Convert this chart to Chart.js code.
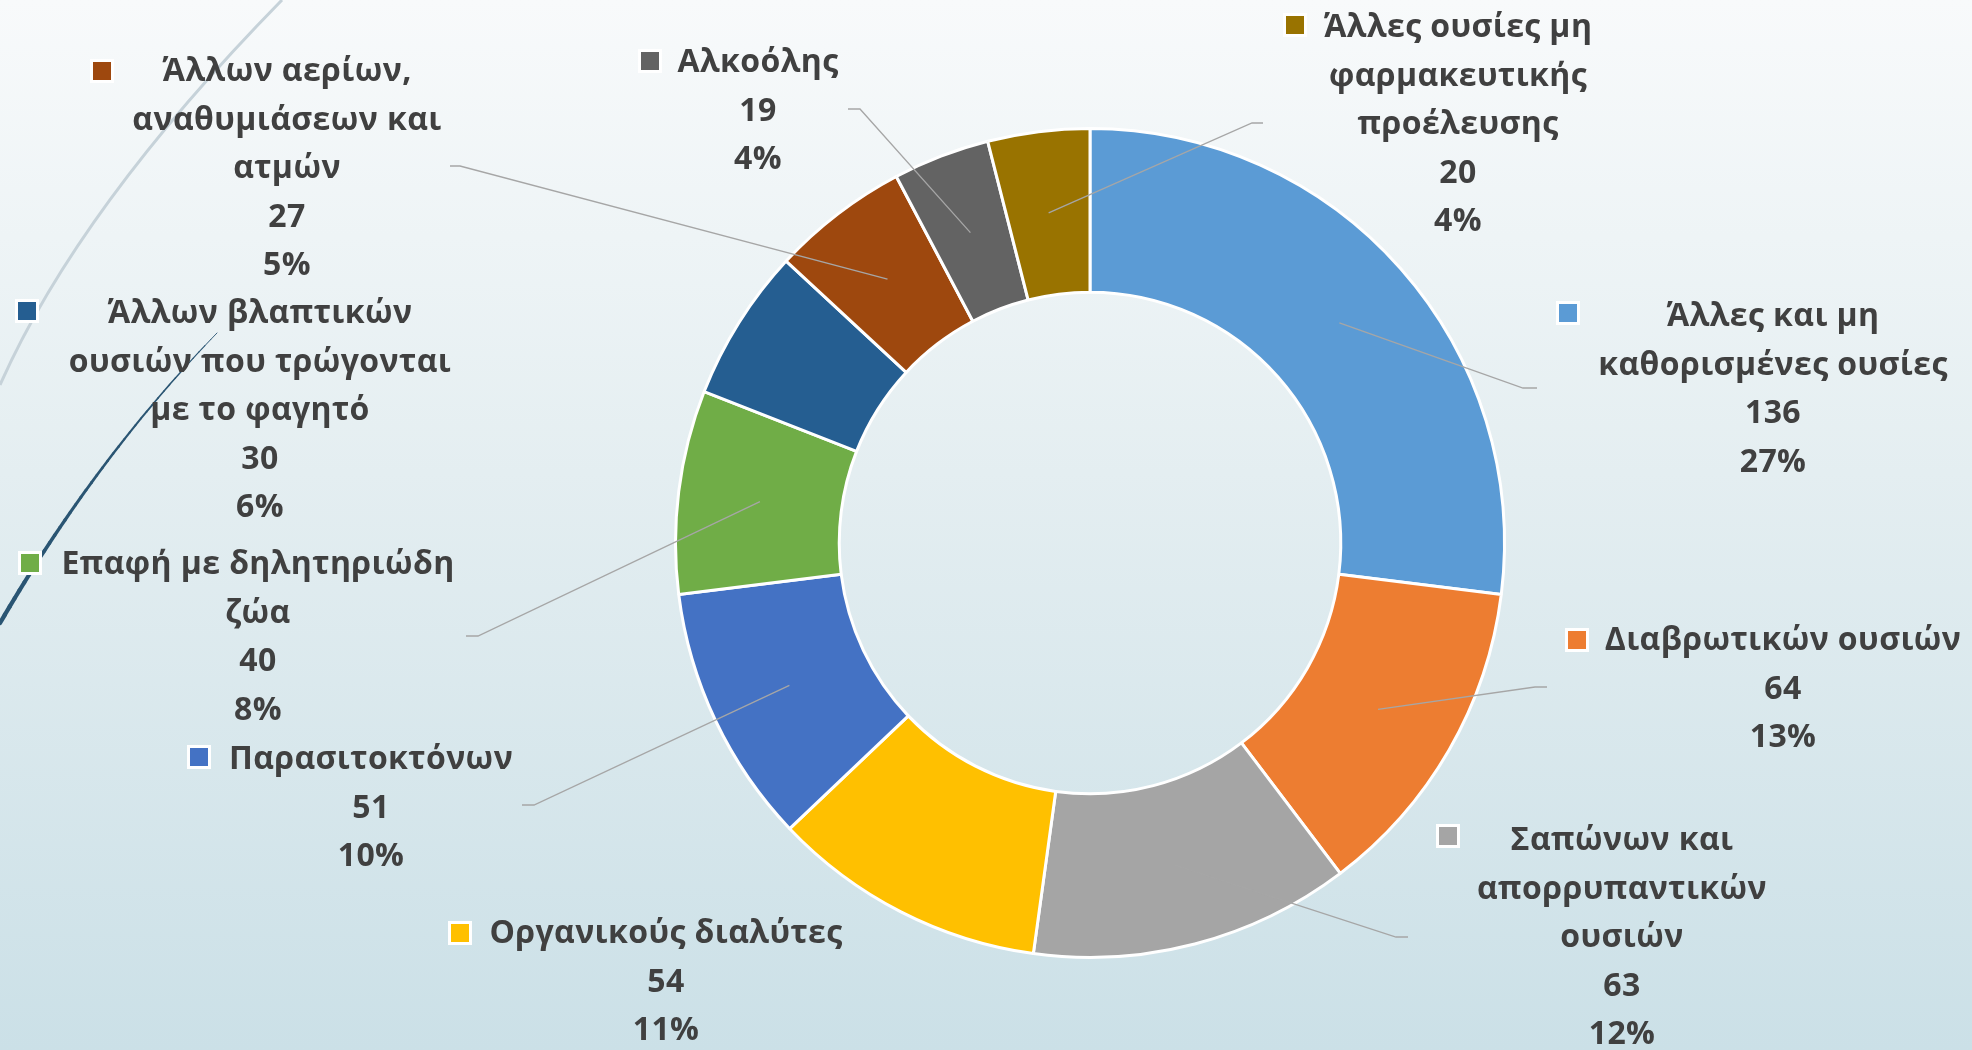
<!DOCTYPE html>
<html>
<head>
<meta charset="utf-8">
<script src="https://cdn.jsdelivr.net/npm/chart.js@4.4.1/dist/chart.umd.min.js"></script>
<style>
  html, body { margin: 0; padding: 0; overflow: hidden; }
  #wrap { width: 1972px; height: 1050px; position: relative; }
</style>
</head>
<body>
<div id="wrap"><canvas id="myChart"></canvas></div>
<script>
// doughnut - cases by substance
const categories = [
    ["Άλλες και μη", "καθορισμένες ουσίες"],
    ["Διαβρωτικών ουσιών"],
    ["Σαπώνων και", "απορρυπαντικών", "ουσιών"],
    ["Οργανικούς διαλύτες"],
    ["Παρασιτοκτόνων"],
    ["Επαφή με δηλητηριώδη", "ζώα"],
    ["Άλλων βλαπτικών", "ουσιών που τρώγονται", "με το φαγητό"],
    ["Άλλων αερίων,", "αναθυμιάσεων και", "ατμών"],
    ["Αλκοόλης"],
    ["Άλλες ουσίες μη", "φαρμακευτικής", "προέλευσης"]
];
const values = [136, 64, 63, 54, 51, 40, 30, 27, 19, 20];
const percents = [27, 13, 12, 11, 10, 8, 6, 5, 4, 4];
const colors = ["#5B9BD5", "#ED7D31", "#A5A5A5", "#FFC000", "#4472C4",
                "#70AD47", "#255E91", "#9E480E", "#636363", "#997300"];

// label layout: text center x, first line y, marker x, marker y
const labelPos = [
    [1773, 317, 1568, 313],
    [1783, 641, 1577, 640],
    [1622, 841, 1448, 836],
    [666, 934, 460, 933],
    [371, 760, 199, 757],
    [258, 565, 30, 563],
    [260, 314, 27, 311],
    [287, 72, 102, 71],
    [758, 63, 650, 61],
    [1458, 28, 1295, 25]
];
// leader lines: elbow x, elbow y, end x (null = no line)
const leaders = [
    [1523, 388, 1537],
    [1535, 687, 1547],
    [1396, 937, 1408],
    null,
    [534, 805, 522],
    [478, 636, 466],
    null,
    [460, 166, 450],
    [860, 109, 848],
    [1252, 123, 1263]
];

const LINE_H = 48.5;

const backdrop = {
    id: 'backdrop',
    beforeDraw(chart) {
        const ctx = chart.ctx;
        const w = chart.width, h = chart.height;
        ctx.save();
        const g = ctx.createLinearGradient(0, 0, 0, h);
        g.addColorStop(0, '#f8fafb');
        g.addColorStop(0.45, '#e4eef1');
        g.addColorStop(1, '#cbe0e7');
        ctx.fillStyle = g;
        ctx.fillRect(0, 0, w, h);

        // light arc
        ctx.strokeStyle = '#c6d2d9';
        ctx.lineWidth = 3;
        ctx.beginPath();
        ctx.moveTo(282, 0);
        ctx.quadraticCurveTo(79, 207, 0, 385);
        ctx.stroke();

        // dark tapered arc
        ctx.strokeStyle = '#2a5573';
        ctx.lineCap = 'round';
        const p0 = [217, 333], c = [96, 458], p2 = [0, 623];
        const n = 40;
        let prev = p0;
        for (let i = 1; i <= n; i++) {
            const t = i / n;
            const x = (1 - t) * (1 - t) * p0[0] + 2 * t * (1 - t) * c[0] + t * t * p2[0];
            const y = (1 - t) * (1 - t) * p0[1] + 2 * t * (1 - t) * c[1] + t * t * p2[1];
            ctx.lineWidth = 0.8 + 3.6 * t;
            ctx.beginPath();
            ctx.moveTo(prev[0], prev[1]);
            ctx.lineTo(x, y);
            ctx.stroke();
            prev = [x, y];
        }
        ctx.restore();
    }
};

const labelsPlugin = {
    id: 'sliceLabels',
    afterDatasetsDraw(chart) {
        const ctx = chart.ctx;
        const arcs = chart.getDatasetMeta(0).data;
        ctx.save();

        // leader lines
        ctx.strokeStyle = '#a6a6a6';
        ctx.lineWidth = 1.3;
        arcs.forEach((arc, i) => {
            const l = leaders[i];
            if (!l) return;
            const p = arc.getCenterPoint();
            ctx.beginPath();
            ctx.moveTo(p.x, p.y);
            ctx.lineTo(l[0], l[1]);
            ctx.lineTo(l[2], l[1]);
            ctx.stroke();
        });

        // markers + text
        ctx.font = 'bold 32px "Open Sans"';
        ctx.letterSpacing = '0.4px';
        ctx.textAlign = 'center';
        ctx.textBaseline = 'middle';
        categories.forEach((lines, i) => {
            const [cx, y0, mx, my] = labelPos[i];
            ctx.fillStyle = '#ffffff';
            ctx.fillRect(mx - 12, my - 12, 24, 24);
            ctx.fillStyle = colors[i];
            ctx.fillRect(mx - 9, my - 9, 18, 18);

            const all = lines.concat([String(values[i]), percents[i] + '%']);
            ctx.fillStyle = '#404040';
            all.forEach((t, k) => {
                ctx.fillText(t, cx, y0 + k * LINE_H);
            });
        });
        ctx.restore();
    }
};

const ctx = document.getElementById('myChart');
const mychart = new Chart(ctx, {
    type: 'doughnut',
    data: {
        labels: categories,
        datasets: [{
            data: values,
            backgroundColor: colors,
            borderColor: '#ffffff',
            borderWidth: 3
        }]
    },
    options: {
        responsive: true,
        maintainAspectRatio: false,
        animation: false,
        cutout: '60.5%',
        layout: { padding: { left: 674, right: 466, top: 127, bottom: 91 } },
        plugins: {
            legend: { display: false },
            tooltip: { enabled: false }
        }
    },
    plugins: [backdrop, labelsPlugin]
});
</script>
</body>
</html>
